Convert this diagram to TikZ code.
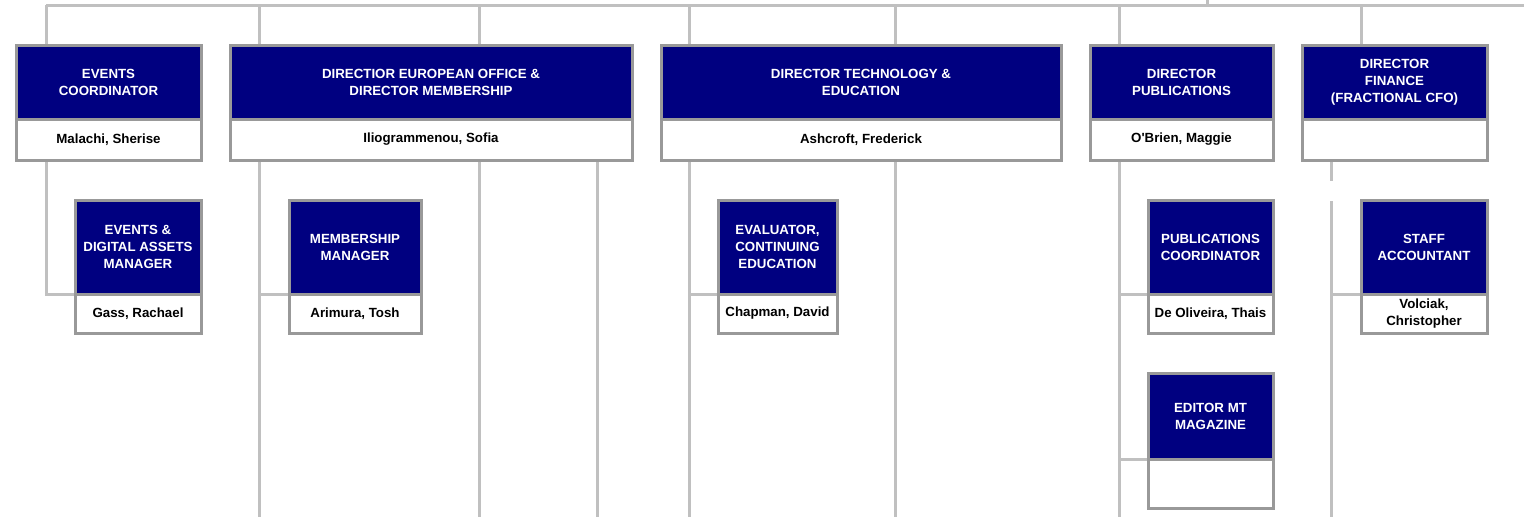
\documentclass[tikz,border=0pt]{standalone}
\usepackage{fontspec}
\setmainfont{Liberation Sans}
\definecolor{navyfill}{RGB}{0,0,128}
\definecolor{boxborder}{RGB}{153,153,153}
\definecolor{linkgray}{RGB}{192,192,192}
\pgfdeclarelayer{background}
\pgfsetlayers{background,main}
\tikzset{
  boxfont/.style={font=\bfseries\fontsize{13.3}{17}\selectfont},
  titlebox/.style={draw=boxborder, line width=3pt, fill=navyfill, text=white, boxfont,
    align=center, inner sep=0pt, outer sep=0pt, anchor=north west},
  namebox/.style={draw=boxborder, line width=3pt, fill=white, text=black, boxfont,
    align=center, inner sep=0pt, outer sep=0pt, anchor=north west},
  link/.style={draw=linkgray, line width=3pt}
}
\begin{document}
\begin{tikzpicture}[x=1pt, y=-1pt]
\useasboundingbox (0,0) rectangle (1524,517);
% coordinates for the connector lines
\coordinate (barL) at (46,5);
\coordinate (barR) at (1524,5);
\coordinate (upT) at (1207,0);
\coordinate (upB) at (1207,5);
\coordinate (xA) at (46,5);
\coordinate (xB1) at (259,5);
\coordinate (xB2) at (479,5);
\coordinate (xB3) at (597,517);
\coordinate (xC1) at (689,5);
\coordinate (xC2) at (895,5);
\coordinate (xD) at (1119,5);
\coordinate (xE) at (1361,5);
\coordinate (gapT) at (1331,181);
\coordinate (gapB) at (1331,201);
\coordinate (bot) at (0,517);

% ---------- boxes
\path
  node[titlebox, minimum width=185pt, minimum height=74pt] (A-t) at (16,45) {EVENTS\\COORDINATOR}
  node[titlebox, minimum width=402pt, minimum height=74pt] (B-t) at (230,45) {DIRECTIOR EUROPEAN OFFICE \&\\DIRECTOR MEMBERSHIP}
  node[titlebox, minimum width=400pt, minimum height=74pt] (C-t) at (661,45) {DIRECTOR TECHNOLOGY \&\\EDUCATION}
  node[titlebox, minimum width=183pt, minimum height=74pt] (D-t) at (1090,45) {DIRECTOR\\PUBLICATIONS}
  node[titlebox, minimum width=185pt, minimum height=74pt] (E-t) at (1302,45) {DIRECTOR\\FINANCE\\(FRACTIONAL CFO)}
  node[titlebox, minimum width=126pt, minimum height=94pt] (F-t) at (75,200) {EVENTS \&\\DIGITAL ASSETS\\MANAGER}
  node[titlebox, minimum width=132pt, minimum height=94pt] (G-t) at (289,200) {MEMBERSHIP\\MANAGER}
  node[titlebox, minimum width=119pt, minimum height=94pt] (H-t) at (718,200) {EVALUATOR,\\CONTINUING\\EDUCATION}
  node[titlebox, minimum width=125pt, minimum height=94pt] (I-t) at (1148,200) {PUBLICATIONS\\COORDINATOR}
  node[titlebox, minimum width=126pt, minimum height=94pt] (J-t) at (1361,200) {STAFF\\ACCOUNTANT}
  node[titlebox, minimum width=125pt, minimum height=86pt] (K-t) at (1148,373) {EDITOR MT\\MAGAZINE};
\path
  node[namebox, minimum width=185pt, minimum height=41pt] (A-n) at (16,119) {Malachi, Sherise}
  node[namebox, minimum width=402pt, minimum height=41pt] (B-n) at (230,119) {Iliogrammenou, Sofia}
  node[namebox, minimum width=400pt, minimum height=41pt] (C-n) at (661,119) {Ashcroft, Frederick}
  node[namebox, minimum width=183pt, minimum height=41pt] (D-n) at (1090,119) {O\textquotesingle Brien, Maggie}
  node[namebox, minimum width=185pt, minimum height=41pt] (E-n) at (1302,119) {}
  node[namebox, minimum width=126pt, minimum height=39pt] (F-n) at (75,294) {Gass, Rachael}
  node[namebox, minimum width=132pt, minimum height=39pt] (G-n) at (289,294) {Arimura, Tosh}
  node[namebox, minimum width=119pt, minimum height=39pt] (H-n) at (718,294) {Chapman, David}
  node[namebox, minimum width=125pt, minimum height=39pt] (I-n) at (1148,294) {De Oliveira, Thais}
  node[namebox, minimum width=126pt, minimum height=39pt] (J-n) at (1361,294) {Volciak,\\Christopher}
  node[namebox, minimum width=125pt, minimum height=49pt] (K-n) at (1148,459) {};

% ---------- connectors (behind boxes)
\begin{pgfonlayer}{background}
  \draw[link] (barL) -- (barR);
  \draw[link] (upT) -- (upB);
  % drops from the bar into the top boxes
  \draw[link] (xA) -- (xA |- A-t.north);
  \draw[link] (xB1) -- (xB1 |- B-t.north);
  \draw[link] (xB2) -- (xB2 |- B-t.north);
  \draw[link] (xC1) -- (xC1 |- C-t.north);
  \draw[link] (xC2) -- (xC2 |- C-t.north);
  \draw[link] (xD) -- (xD |- D-t.north);
  \draw[link] (xE) -- (xE |- E-t.north);
  % below the top boxes
  \draw[link] (xA |- A-n.south) |- (F-t.south west);
  \draw[link] (xB1 |- B-n.south) -- (xB1 |- bot);
  \draw[link] (xB1 |- G-t.south west) -- (G-t.south west);
  \draw[link] (xB2 |- B-n.south) -- (xB2 |- bot);
  \draw[link] (xB3 |- B-n.south) -- (xB3);
  \draw[link] (xC1 |- C-n.south) -- (xC1 |- bot);
  \draw[link] (xC1 |- H-t.south west) -- (H-t.south west);
  \draw[link] (xC2 |- C-n.south) -- (xC2 |- bot);
  \draw[link] (xD |- D-n.south) -- (xD |- bot);
  \draw[link] (xD |- I-t.south west) -- (I-t.south west);
  \draw[link] (xD |- K-t.south west) -- (K-t.south west);
  \draw[link] (gapT |- E-n.south) -- (gapT);
  \draw[link] (gapB) -- (gapB |- bot);
  \draw[link] (gapB |- J-t.south west) -- (J-t.south west);
\end{pgfonlayer}
\end{tikzpicture}
\end{document}
